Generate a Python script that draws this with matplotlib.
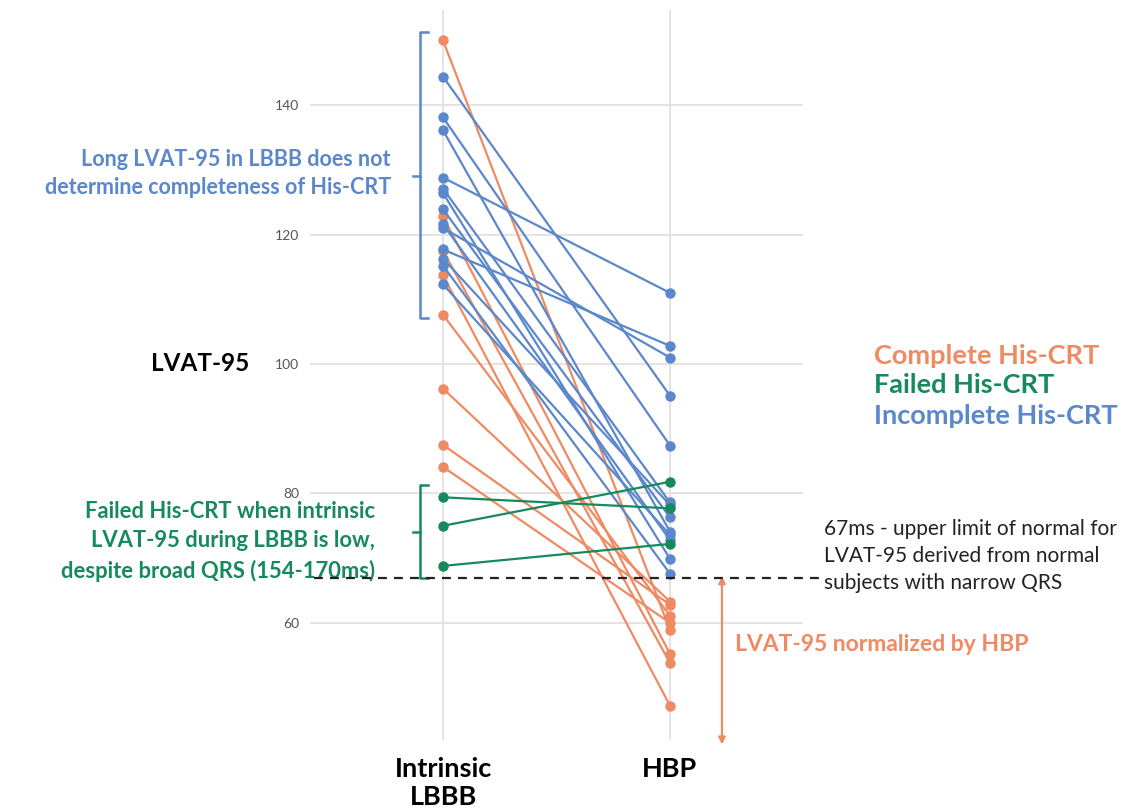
import numpy as np
import matplotlib.pyplot as plt

# LVAT-95 (ms) per patient, intrinsic LBBB vs HBP
complete_lbbb = [150.0, 122.8, 117.5, 113.7, 107.6, 96.2, 87.5, 84.1]
complete_hbp = [58.9, 55.2, 53.8, 47.2, 61.1, 63.3, 62.8, 60.0]

failed_lbbb = [79.4, 75.0, 68.8]
failed_hbp = [77.7, 81.8, 72.2]

incomplete_lbbb = [144.4, 138.1, 136.1, 128.8, 127.1, 126.4, 123.9, 121.6,
                   121.0, 117.7, 116.3, 115.2, 112.3]
incomplete_hbp = [95.1, 87.4, 74.1, 111.0, 78.6, 69.9, 76.3, 72.8,
                  101.0, 102.8, 78.2, 67.6, 73.6]

categories = ['Intrinsic\nLBBB', 'HBP']
yticks = [60, 80, 100, 120, 140]
normal_limit = 67

orange = '#EF8A62'
green = '#168A5C'
blue = '#5B87CB'

plt.rcParams['font.family'] = ['Lato', 'DejaVu Sans']

fig = plt.figure(figsize=(11.31, 8.11), dpi=100)
ax = fig.add_axes([310 / 1131, 1 - 740 / 811, 493 / 1131, 730 / 811])

xs = [1, 2]
for a, b in zip(complete_lbbb, complete_hbp):
    ax.plot(xs, [a, b], color=orange, lw=1.6, marker='o', ms=6.5, zorder=3)
for a, b in zip(incomplete_lbbb, incomplete_hbp):
    ax.plot(xs, [a, b], color=blue, lw=1.6, marker='o', ms=6.5, zorder=4)
for a, b in zip(failed_lbbb, failed_hbp):
    ax.plot(xs, [a, b], color=green, lw=1.6, marker='o', ms=6.5, zorder=5)

ax.set_xlim(0.414, 2.586)
ax.set_ylim(41.9, 154.7)
ax.set_xticks(xs)
ax.set_xticklabels(categories, fontsize=19.5, fontweight='bold', color='black')
ax.set_yticks(yticks)
ax.set_yticklabels([str(t) for t in yticks], fontsize=10, color='#555555')
ax.tick_params(length=0, pad=8)
ax.tick_params(axis='x', pad=12)
for s in ax.spines.values():
    s.set_visible(False)
ax.grid(True, color='#E6E1E1', lw=1.3)
ax.set_axisbelow(True)

# dashed line for normal upper limit, running out to the right
ax.plot([0.43, 3.96], [normal_limit, normal_limit], ls=(0, (4, 3.2)),
        color='#222222', lw=1.6, clip_on=False, zorder=6)

# brackets
def bracket(y0, y1, ym, color):
    xv, xs_, xm = 0.899, 0.934, 0.866
    ax.plot([xs_, xv, xv, xs_], [y0, y0, y1, y1], color=color, lw=1.8,
            clip_on=False, zorder=2)
    ax.plot([xv, xm], [ym, ym], color=color, lw=1.8, clip_on=False, zorder=2)

bracket(151.3, 107.1, 129.1, blue)
bracket(81.3, 67.0, 74.1, green)

# arrow for normalized values
ax.annotate('', xy=(2.229, 41.2), xytext=(2.229, 67.2),
            arrowprops=dict(arrowstyle='<|-|>', color=orange, lw=1.6,
                            mutation_scale=10, shrinkA=0, shrinkB=0),
            annotation_clip=False)

ax.text(2.286, 56.7, 'LVAT-95 normalized by HBP', color=orange, fontsize=16.5,
        fontweight='bold', va='center', ha='left')

ax.text(0.77, 129.4, 'Long LVAT-95 in LBBB does not\ndetermine completeness of His-CRT',
        color=blue, fontsize=15.5, fontweight='bold', ha='right', va='center',
        linespacing=1.4)
ax.text(0.70, 72.6, 'Failed His-CRT when intrinsic\nLVAT-95 during LBBB is low,\ndespite broad QRS (154-170ms)',
        color=green, fontsize=15.8, fontweight='bold', ha='right', va='center',
        linespacing=1.5)
ax.text(2.68, 70.3, '67ms - upper limit of normal for\nLVAT-95 derived from normal\nsubjects with narrow QRS',
        color='#222222', fontsize=15, ha='left', va='center', linespacing=1.45,
        zorder=7, bbox=dict(facecolor='white', edgecolor='none', pad=3))

ax.text(-0.07, 100, 'LVAT-95', color='black', fontsize=17.5, fontweight='bold',
        ha='center', va='center')

ax.text(2.9, 101.3, 'Complete His-CRT', color=orange, fontsize=19.5,
        fontweight='bold', ha='left', va='center')
ax.text(2.9, 96.8, 'Failed His-CRT', color=green, fontsize=19.5,
        fontweight='bold', ha='left', va='center')
ax.text(2.9, 92.0, 'Incomplete His-CRT', color=blue, fontsize=19.5,
        fontweight='bold', ha='left', va='center')

fig.savefig('out.png', dpi=100)
